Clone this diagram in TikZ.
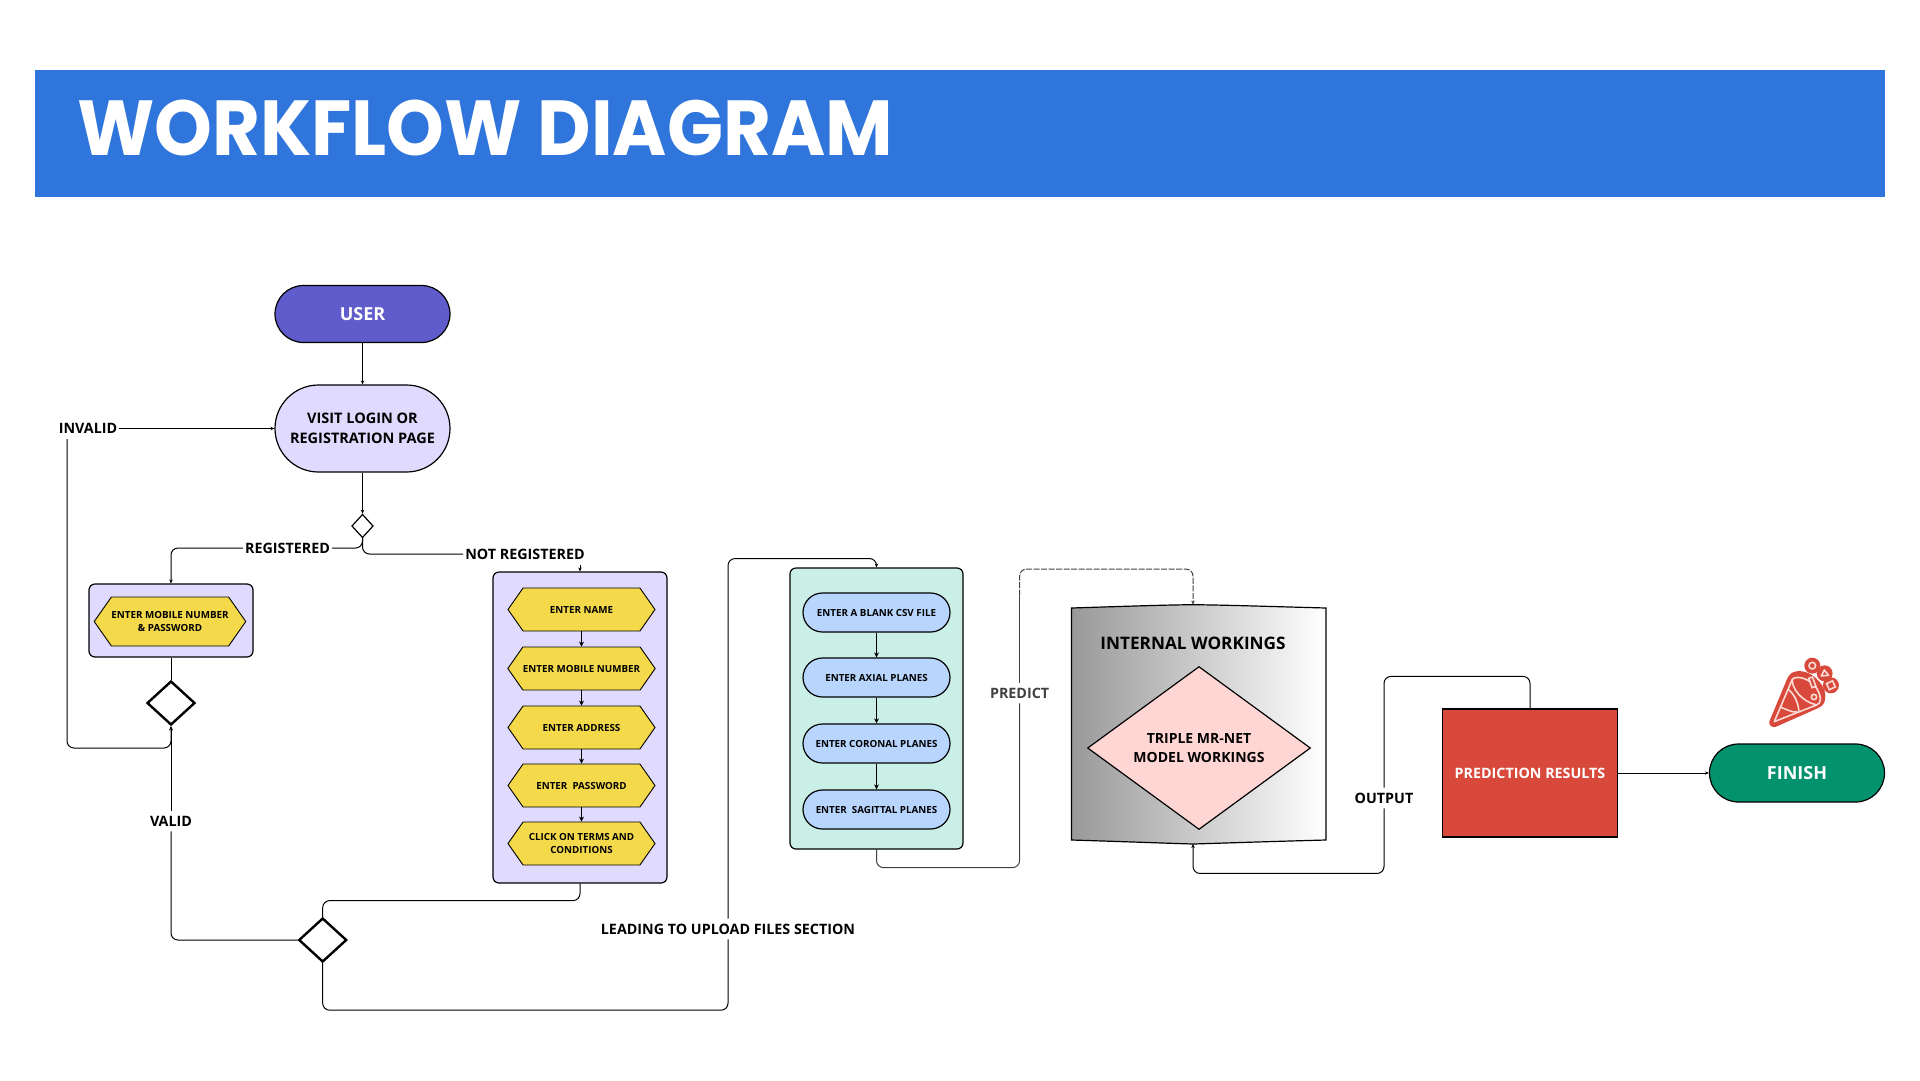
\documentclass[tikz,border=0pt]{standalone}
\usepackage{fontspec}
\setmainfont{Open Sans}
\newfontfamily\titlefont[FakeStretch=0.943]{Poppins}
\usepackage{tikz}
\usetikzlibrary{arrows.meta, shapes.geometric, shapes.misc, shapes.symbols}

\definecolor{headblue}{HTML}{3075DB}
\definecolor{userblue}{HTML}{615CCB}
\definecolor{palelilac}{HTML}{E0DBFE}
\definecolor{hexyellow}{HTML}{F4D94B}
\definecolor{palemint}{HTML}{C9EFE6}
\definecolor{paleblue}{HTML}{B8D5FE}
\definecolor{palepink}{HTML}{FFD6D3}
\definecolor{resultred}{HTML}{D8493B}
\definecolor{finishgreen}{HTML}{03926E}
\definecolor{iconpink}{HTML}{FBDAD5}

\tikzset{
    pill/.style={draw=black, line width=1.2pt, rounded rectangle, inner sep=0pt, align=center,
                 minimum width=175pt, font=\fontsize{18}{22}\selectfont\bfseries},
    panel/.style={draw=black, line width=1.2pt, rounded corners=6pt, inner sep=0pt},
    hexbox/.style={draw=black, line width=0.9pt, fill=hexyellow, signal, signal to=west and east,
                   signal pointer angle=110, inner sep=0pt, align=center,
                   minimum width=147pt, minimum height=43pt,
                   font=\fontsize{9.8}{13}\selectfont\bfseries},
    planebox/.style={draw=black, line width=1.2pt, fill=paleblue, rounded rectangle, inner sep=0pt,
                     minimum width=147pt, minimum height=39pt,
                     font=\fontsize{9.8}{13}\selectfont\bfseries},
    choice/.style={draw=black, diamond, aspect=1.1, inner sep=0pt, line width=2.4pt,
                   minimum width=48pt, minimum height=44pt},
    tag/.style={inner xsep=2pt, inner ysep=5pt, align=center, font=\fontsize{14.3}{19}\selectfont\bfseries},
    link/.style={draw=black, line width=1pt, rounded corners=7pt},
    flow/.style={link, -{Stealth[length=4pt,width=3.5pt]}},
    step down/.style={draw=black, line width=1.3pt, -{Stealth[length=5pt,width=5pt]}}
}

\begin{document}
\begin{tikzpicture}[x=1pt, y=-1pt]
    \useasboundingbox (0,0) rectangle (1920,1080);

    % title band
    \node[fill=headblue, minimum width=1850pt, minimum height=127pt, inner sep=0pt] (header) at (960,133.5) {};
    \node[anchor=base west, inner sep=0pt, text=white, font=\titlefont\fontsize{78}{80}\selectfont\bfseries] (title) at (77,155) {WORKFLOW DIAGRAM};

    % login part
    \node[pill, fill=userblue, text=white, minimum height=57pt] (user) at (362.5,314) {USER};
    \node[pill, fill=palelilac, minimum height=87pt, font=\fontsize{14.5}{20}\selectfont\bfseries] (visit) at (362.5,428.5) {VISIT LOGIN OR\\REGISTRATION PAGE};
    \node[draw=black, diamond, line width=1.2pt, inner sep=0pt, minimum width=21.5pt, minimum height=23.5pt, aspect=0.9] (decide) at (362.5,526) {};
    \node[tag] (registered) at (287.5,548) {REGISTERED};
    \node[tag] (notregistered) at (525,554) {NOT REGISTERED};
    \node[tag] (invalid) at (88,428.5) {INVALID};
    \node[tag] (valid) at (171,821) {VALID};
    \coordinate (invalidtail) at (67,439);
    \coordinate (notregtail) at (580,565);

    \node[panel, fill=palelilac, minimum width=164pt, minimum height=73pt] (signin) at (171,620.5) {};
    \node[hexbox, minimum width=150pt, minimum height=49pt] (mobilepass) at (170,621.5) {ENTER MOBILE NUMBER\\\& PASSWORD};
    \node[choice] (checkA) at (171,703) {};

    % sign up panel
    \node[panel, fill=palelilac, minimum width=174pt, minimum height=311pt] (signup) at (580,727.5) {};
    \node[hexbox] (name) at (581.5,609.5) {ENTER NAME};
    \node[hexbox] (mobile) at (581.5,668.5) {ENTER MOBILE NUMBER};
    \node[hexbox] (address) at (581.5,727.5) {ENTER ADDRESS};
    \node[hexbox] (password) at (581.5,785.5) {ENTER\ \ PASSWORD};
    \node[hexbox] (terms) at (581.5,843.5) {CLICK ON TERMS AND\\CONDITIONS};
    \node[choice] (checkB) at (322.7,940) {};
    \node[tag] (leading) at (728,929) {LEADING TO UPLOAD FILES SECTION};

    % upload panel
    \node[panel, fill=palemint, minimum width=173pt, minimum height=281pt] (upload) at (876.5,708.5) {};
    \node[planebox] (csv) at (876.5,612.5) {ENTER A BLANK CSV FILE};
    \node[planebox] (axial) at (876.5,677.5) {ENTER AXIAL PLANES};
    \node[planebox] (coronal) at (876.5,743.5) {ENTER CORONAL PLANES};
    \node[planebox] (sagittal) at (876.5,809.5) {ENTER\ \ SAGITTAL PLANES};
    \node[tag, text=black!75] (predict) at (1019.6,693) {PREDICT};

    % model part
    \coordinate (worktop) at (1193,604.7);
    \coordinate (workbase) at (1193,844);
    \shadedraw[left color=black!40, right color=white, draw=black, line width=1.2pt]
        (1071.4,608) .. controls (1120,606.5) and (1160,605) .. (worktop)
        .. controls (1226,605) and (1270,606.5) .. (1326,608) -- (1326,840)
        .. controls (1270,841.5) and (1226,843) .. (workbase)
        .. controls (1160,843) and (1120,841.5) .. (1071.4,840) -- cycle;
    \node[inner sep=0pt, font=\fontsize{17.2}{22}\selectfont\bfseries] (internal) at (1193,643) {INTERNAL WORKINGS};
    \node[draw=black, fill=palepink, diamond, line width=1.2pt, aspect=1.366, inner sep=0pt, minimum width=223pt, minimum height=163pt,
          align=center, font=\fontsize{14}{19}\selectfont\bfseries] (model) at (1199,748) {TRIPLE MR-NET\\MODEL WORKINGS};
    \node[tag] (output) at (1384,798) {OUTPUT};

    \node[draw=black, fill=resultred, line width=1.2pt, minimum width=175.5pt, minimum height=128pt, inner sep=0pt, text=white,
          font=\fontsize{14.3}{19}\selectfont\bfseries] (results) at (1530,773) {PREDICTION RESULTS};
    \node[pill, fill=finishgreen, text=white, minimum height=58pt] (finish) at (1797,773) {FINISH};

    % connectors
    \draw[flow] (user.south) -- (visit.north);
    \draw[flow] (visit.south) -- (decide.north);
    \draw[link] (decide.south) |- (registered.east);
    \draw[flow] (registered.west) -| (signin.north);
    \draw[link] (decide.south) |- (notregistered.west);
    \draw[flow] (notregtail) -- (signup.north);
    \draw[link] (signin.south) -- (checkA.north);
    \draw[flow] (invalid.east) -- (visit.west);
    \draw[flow] (invalidtail) -- ++(0,309) -| (checkA.south);
    \draw[flow] (valid.north) -- (checkA.south);
    \draw[link] (checkB.west) -| (valid.south);
    \draw[link] (signup.south) -- ++(0,17) -| (checkB.north);
    \draw[link] (checkB.south) -- ++(0,47) -| (leading.south);
    \draw[flow] (leading.north) -- ++(0,-360) -| (upload.north);
    \draw[step down] (name.south) -- (mobile.north);
    \draw[step down] (mobile.south) -- (address.north);
    \draw[step down] (address.south) -- (password.north);
    \draw[step down] (password.south) -- (terms.north);
    \draw[step down] (csv.south) -- (axial.north);
    \draw[step down] (axial.south) -- (coronal.north);
    \draw[step down] (coronal.south) -- (sagittal.north);
    \draw[link, black!75] (upload.south) -- ++(0,18) -| (predict.south);
    \draw[link, black!75] (predict.north) -- ++(0,-87);
    \draw[flow, black!75, dash pattern=on 6pt off 1.5pt] (predict.north) ++(0,-87) -- ++(0,-26.5) -| (worktop);
    \draw[flow] (output.south) -- ++(0,65) -| (workbase);
    \draw[link] (results.north) -- ++(0,-32) -| (output.north);
    \draw[flow] (results.east) -- (finish.west);

    % party popper above the finish
    \begin{scope}[shift={(1755,650)}, x=0.333pt, y=-0.333pt]
        \fill[resultred] (172,47) circle (24);
        \fill[resultred] (209,70) circle (24);
        \fill[resultred] (228,106) circle (24);
        \fill[resultred, rounded corners=3pt] (40,222) -- (100,78) .. controls (125,55) and (165,65) .. (190,92)
            .. controls (215,120) and (215,155) .. (195,172) -- (55,234) -- cycle;
        \draw[iconpink, line width=1.6pt, line join=round] (58,215) -- (112,88) .. controls (125,75) and (165,85) .. (185,115)
            .. controls (200,140) and (200,160) .. (185,165) -- cycle;
        \draw[iconpink, line width=1.6pt] (112,88) .. controls (110,115) and (140,155) .. (185,165);
        \draw[iconpink, line width=1.6pt] (77,172) .. controls (95,178) and (115,190) .. (127,185);
        \draw[iconpink, line width=1.6pt] (100,118) .. controls (120,135) and (130,160) .. (132,185);
        \draw[iconpink, line width=1.6pt] (172,47) circle (10);
        \draw[iconpink, line width=1.6pt] (177,141) circle (8);
        \draw[iconpink, line width=1.6pt, line join=round] (199,78) -- (208,60) -- (221,76) -- cycle;
        \draw[iconpink, line width=1.6pt, rotate around={25:(228,106)}] (218,96) rectangle (238,116);
        \draw[iconpink, fill=resultred, line width=1.6pt, rotate around={20:(172,97)}] (166,82) rectangle (178,112);
    \end{scope}
\end{tikzpicture}
\end{document}
